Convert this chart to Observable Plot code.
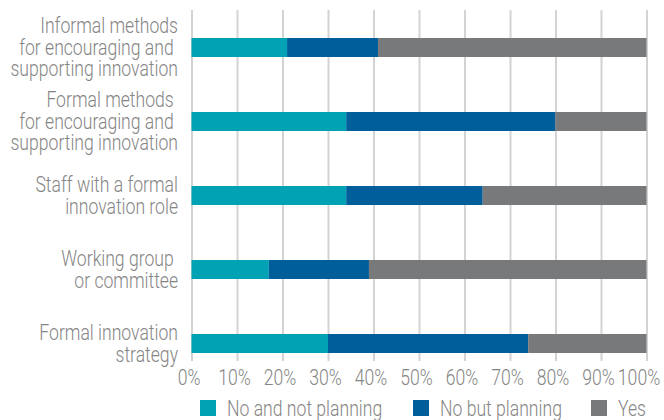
<!DOCTYPE html>
<html>
<head>
<meta charset="utf-8">
<script src="https://cdn.jsdelivr.net/npm/d3@7"></script>
<script src="https://cdn.jsdelivr.net/npm/@observablehq/plot@0.6"></script>
<style>
  body { margin: 0; background: #fff; }
  #chart { width: 664px; height: 420px; position: relative; overflow: hidden;
    font-family: Roboto, "Liberation Sans", sans-serif; font-weight: 300; }
  #chart svg text { white-space: pre; }
  .legend { position: relative; height: 26px; font-size: 22px; color: #858585; }
  .legend .item { position: absolute; top: 0; height: 26px; display: flex; align-items: center; white-space: nowrap; }
  .legend .item:nth-child(1) { left: 200px; }
  .legend .item:nth-child(2) { left: 413px; }
  .legend .item:nth-child(3) { left: 591px; }
  .legend .sw { width: 16px; height: 16px; margin-right: 11px; flex: none; }
  .legend .lab { display: inline-block; transform: scaleX(0.8); transform-origin: 0 50%; }
</style>
</head>
<body>
<div id="chart"></div>
<script>
const categories = [
  "Informal methods\nfor encouraging and \nsupporting innovation",
  "Formal methods \nfor encouraging and \nsupporting innovation",
  "Staff with a formal\ninnovation role",
  "Working group \nor committee",
  "Formal innovation\nstrategy"
];
const seriesNames = ["No and not planning", "No but planning", "Yes"];
const noAndNotPlanning = [21, 34, 34, 17, 30];
const noButPlanning = [20, 46, 30, 22, 44];
const yes = [59, 20, 36, 61, 26];
const seriesColors = ["#00a2b4", "#005f9b", "#78797b"];
const xTicks = [0, 10, 20, 30, 40, 50, 60, 70, 80, 90, 100];

const seriesValues = [noAndNotPlanning, noButPlanning, yes];
const data = [];
categories.forEach((c, i) => {
  seriesNames.forEach((s, j) => {
    data.push({category: c, series: s, value: seriesValues[j][i]});
  });
});

const textColor = "#858585";
const condense = 0.8;
const plot = Plot.plot({
  width: 664,
  height: 395,
  marginLeft: 191.5,
  marginRight: 17.5,
  marginTop: 10,
  marginBottom: 34,
  style: {
    fontFamily: 'Roboto, "Liberation Sans", sans-serif',
    fontSize: "22px",
    fontWeight: 300,
    color: textColor,
    background: "#fff",
    overflow: "visible"
  },
  x: {domain: [0, 100], label: null},
  y: {domain: categories, paddingInner: 0.744, paddingOuter: 0, insetTop: 27, insetBottom: 8, label: null},
  color: {domain: seriesNames, range: seriesColors},
  marks: [
    Plot.gridX(xTicks, {stroke: "#d3d3d3", strokeOpacity: 1, strokeWidth: 2}),
    Plot.barX(data, Plot.stackX({x: "value", y: "category", fill: "series"})),
    Plot.axisX(xTicks.slice(0, -1), {tickSize: 0, tickPadding: 8, dx: -3, tickFormat: d => d + "%", fill: textColor, label: null}),
    Plot.axisX(xTicks.slice(-1), {tickSize: 0, tickPadding: 8, dx: -8, tickFormat: d => d + "%", fill: textColor, label: null}),
    Plot.axisY({tickSize: 0, tickPadding: 14, tickFormat: d => d, lineHeight: 0.98, fill: textColor, label: null})
  ]
});

// condense glyphs horizontally around each text's own anchor
plot.querySelectorAll("text").forEach(t => {
  const ax = parseFloat(t.getAttribute("x") || "0");
  const tr = t.getAttribute("transform") || "";
  t.setAttribute("transform", `${tr} translate(${ax},0) scale(${condense},1) translate(${-ax},0)`.trim());
});

const chart = document.getElementById("chart");
chart.appendChild(plot);

const legend = document.createElement("div");
legend.className = "legend";
seriesNames.forEach((s, i) => {
  const item = document.createElement("div");
  item.className = "item";
  const sw = document.createElement("span");
  sw.className = "sw";
  sw.style.background = seriesColors[i];
  const label = document.createElement("span");
  label.className = "lab";
  label.textContent = s;
  item.appendChild(sw);
  item.appendChild(label);
  legend.appendChild(item);
});
chart.appendChild(legend);
</script>
</body>
</html>
